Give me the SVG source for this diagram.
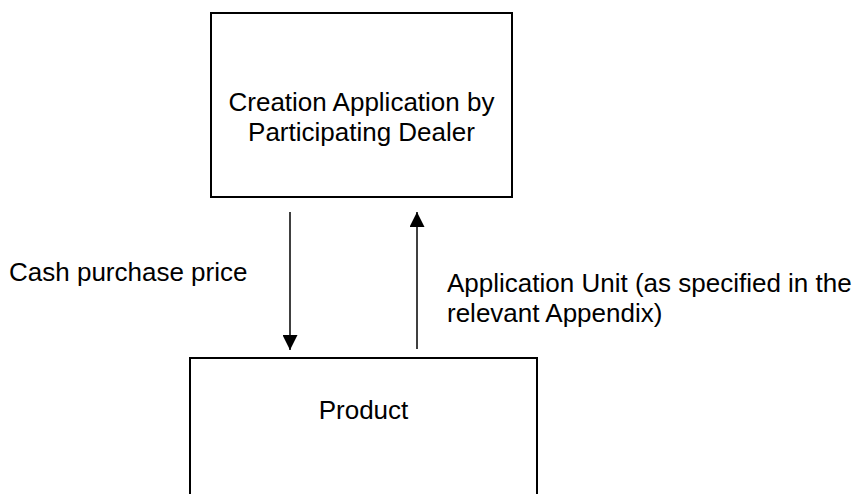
<svg xmlns="http://www.w3.org/2000/svg" width="864" height="494" viewBox="0 0 864 494">
  <style>
    .box { fill: #ffffff; stroke: #000000; stroke-width: 2; }
    .lbl { font-family: "Liberation Sans", Arial, sans-serif; font-size: 26px; fill: #000000; }
    .mid { text-anchor: middle; }
    .conn { stroke: #000000; stroke-width: 1.5; fill: none; }
  </style>
  <defs>
    <marker id="arrow" viewBox="0 0 15 15" refX="15" refY="7.5" markerWidth="15" markerHeight="15" markerUnits="userSpaceOnUse" orient="auto">
      <path d="M0,0 L15,7.5 L0,15 Z" fill="#000000"/>
    </marker>
  </defs>
  <rect width="864" height="494" fill="#ffffff"/>
  <g id="node-dealer">
    <rect class="box" x="211" y="13" width="301" height="184"/>
    <text class="lbl mid" x="361.5" y="111">Creation Application by</text>
    <text class="lbl mid" x="361.5" y="141">Participating Dealer</text>
  </g>
  <g id="node-product">
    <rect class="box" x="190" y="358" width="347" height="150"/>
    <text class="lbl mid" x="363.5" y="419">Product</text>
  </g>
  <g id="connectors">
    <line class="conn" x1="290" y1="212" x2="290" y2="350" marker-end="url(#arrow)"/>
    <line class="conn" x1="417" y1="349" x2="417" y2="212" marker-end="url(#arrow)"/>
  </g>
  <g id="labels">
    <text class="lbl" x="9" y="281">Cash purchase price</text>
    <text class="lbl" x="447" y="292">Application Unit (as specified in the</text>
    <text class="lbl" x="447" y="322">relevant Appendix)</text>
  </g>
</svg>
